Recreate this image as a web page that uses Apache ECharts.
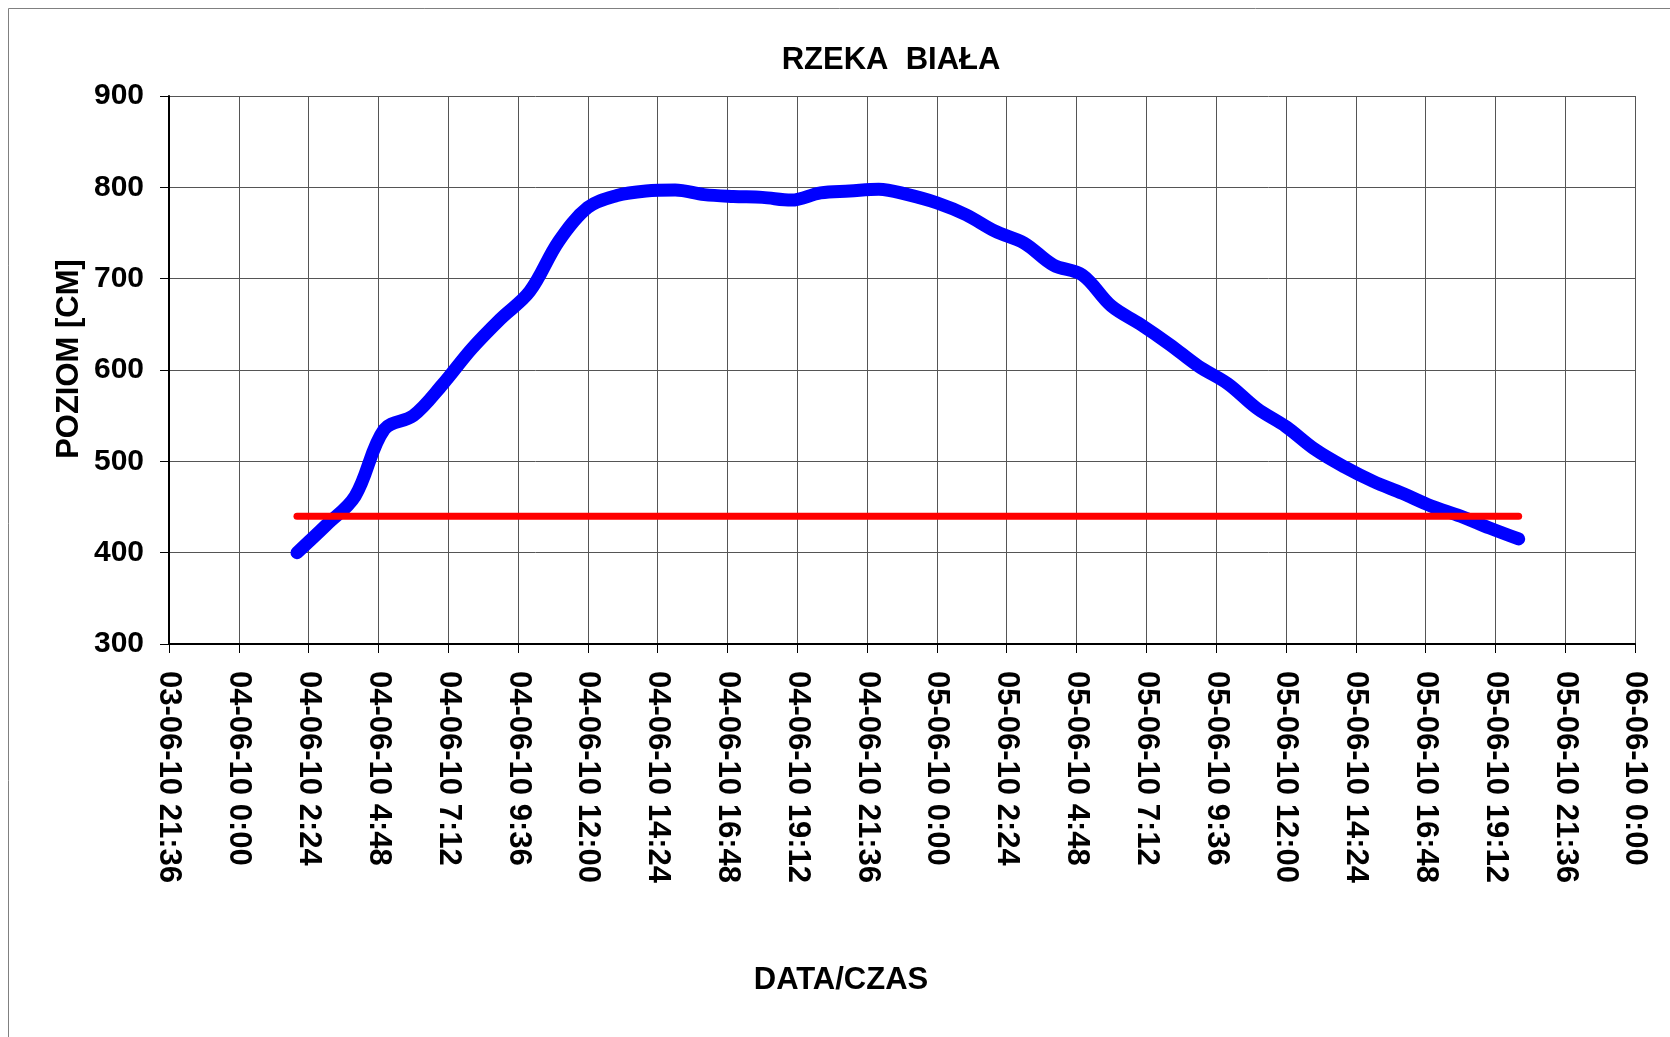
<!DOCTYPE html>
<html>
<head>
<meta charset="utf-8">
<script src="https://cdn.jsdelivr.net/npm/echarts@6/dist/echarts.min.js"></script>
<style>
html,body{margin:0;padding:0;background:#fff;}
#chart{width:1670px;height:1037px;}
</style>
</head>
<body>
<div id="chart"></div>
<script>
// ---- data (DD-MM-YY H:MM) ----
var titleText = 'RZEKA  BIAŁA';
var yAxisTitle = 'POZIOM [CM]';
var xAxisTitle = 'DATA/CZAS';
var axisStart = '03-06-10 21:36';
var axisEnd = '06-06-10 0:00';
var tickStepMinutes = 144; // 2:24
var yTicks = [300, 400, 500, 600, 700, 800, 900];

var times = [
  '04-06-10 2:00','04-06-10 3:00','04-06-10 4:00','04-06-10 5:00','04-06-10 6:00',
  '04-06-10 7:00','04-06-10 8:00','04-06-10 9:00','04-06-10 10:00','04-06-10 11:00',
  '04-06-10 12:00','04-06-10 13:00','04-06-10 14:00','04-06-10 15:00','04-06-10 16:00',
  '04-06-10 17:00','04-06-10 18:00','04-06-10 19:00','04-06-10 20:00','04-06-10 21:00',
  '04-06-10 22:00','04-06-10 23:00','05-06-10 0:00','05-06-10 1:00','05-06-10 2:00',
  '05-06-10 3:00','05-06-10 4:00','05-06-10 5:00','05-06-10 6:00','05-06-10 7:00',
  '05-06-10 8:00','05-06-10 9:00','05-06-10 10:00','05-06-10 11:00','05-06-10 12:00',
  '05-06-10 13:00','05-06-10 14:00','05-06-10 15:00','05-06-10 16:00','05-06-10 17:00',
  '05-06-10 18:00','05-06-10 19:00','05-06-10 20:00'
];
var levels = [
  400, 430, 462, 535, 550,
  584, 623, 656, 686, 741,
  778, 791, 796, 797, 792,
  790, 789, 786, 794, 796,
  798, 792, 783, 770, 752,
  739, 715, 704, 670, 650,
  628, 604, 585, 558, 538,
  513, 494, 478, 465, 451,
  440, 427, 415
];
var alarmTimes = ['04-06-10 2:00', '05-06-10 20:00'];
var alarmLevel = 440;

// ---- helpers ----
function parseT(s){
  var p = s.split(' '), d = p[0].split('-'), t = p[1].split(':');
  return Date.UTC(2000 + (+d[2]), (+d[1]) - 1, +d[0], +t[0], +t[1]);
}
var base = parseT(axisStart);
function toMin(s){ return Math.round((parseT(s) - base) / 60000); }
function pad(n){ return (n < 10 ? '0' : '') + n; }
function fmt(m){
  var d = new Date(base + Math.round(m) * 60000);
  return pad(d.getUTCDate()) + '-' + pad(d.getUTCMonth() + 1) + '-' + pad(d.getUTCFullYear() % 100) +
    ' ' + d.getUTCHours() + ':' + pad(d.getUTCMinutes());
}

var mainData = times.map(function(t, i){ return [toMin(t), levels[i]]; });
var alarmData = alarmTimes.map(function(t){ return [toMin(t), alarmLevel]; });

var FONT = '"Liberation Sans", Arial, sans-serif';
var chart = echarts.init(document.getElementById('chart'), null, {renderer: 'canvas'});
chart.setOption({
  animation: false,
  backgroundColor: '#fff',
  title: {
    text: titleText,
    left: 886, top: 40, textAlign: 'center',
    textStyle: {fontFamily: FONT, fontWeight: 'bold', fontSize: 31, color: '#000'}
  },
  grid: {left: 169, right: 35, top: 96, bottom: 393, containLabel: false},
  xAxis: {
    type: 'value',
    min: 0, max: toMin(axisEnd), interval: tickStepMinutes,
    axisLine: {show: true, onZero: false, lineStyle: {color: '#000', width: 2}},
    axisTick: {show: true, length: 9, inside: false, lineStyle: {color: '#000', width: 1}},
    splitLine: {show: true, lineStyle: {color: '#555', width: 1}},
    axisLabel: {
      rotate: -90, margin: 27, color: '#000',
      fontFamily: FONT, fontWeight: 'bold', fontSize: 31,
      formatter: function(v){ return fmt(v); }
    }
  },
  yAxis: {
    type: 'value',
    min: yTicks[0], max: yTicks[yTicks.length - 1], interval: 100,
    axisLine: {show: true, lineStyle: {color: '#000', width: 2}},
    axisTick: {show: true, length: 9, inside: false, lineStyle: {color: '#000', width: 1}},
    splitLine: {show: true, lineStyle: {color: '#555', width: 1}},
    axisLabel: {
      margin: 25, color: '#000',
      fontFamily: FONT, fontWeight: 'bold', fontSize: 30
    }
  },
  graphic: [
    {type: 'rect', shape: {x: 8.5, y: 8.5, width: 1700, height: 1100},
     style: {fill: 'none', stroke: '#808080', lineWidth: 1}, z: -10},
    {type: 'text', x: 69, y: 359, rotation: Math.PI / 2,
     style: {text: yAxisTitle, fontFamily: FONT, fontWeight: 'bold', fontSize: 31,
             fill: '#000', textAlign: 'center', textVerticalAlign: 'middle'}},
    {type: 'text', x: 841, y: 980,
     style: {text: xAxisTitle, fontFamily: FONT, fontWeight: 'bold', fontSize: 31,
             fill: '#000', textAlign: 'center', textVerticalAlign: 'middle'}}
  ],
  series: [
    {type: 'line', data: mainData, smooth: 0.35, showSymbol: false,
     lineStyle: {color: '#0000FF', width: 13, cap: 'round', join: 'round'}, z: 3},
    {type: 'line', data: alarmData, showSymbol: false,
     lineStyle: {color: '#FF0000', width: 7, cap: 'round'}, z: 4}
  ]
});
</script>
</body>
</html>
